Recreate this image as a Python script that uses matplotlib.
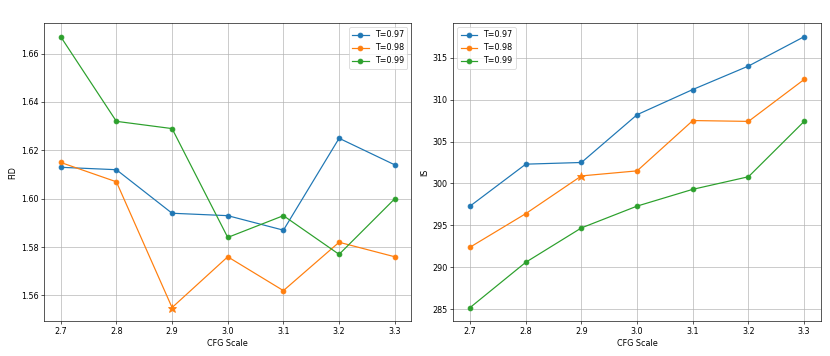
import matplotlib
matplotlib.use("Agg")
import matplotlib.pyplot as plt

# CFG scales and metrics per temperature
cfg = [2.7, 2.8, 2.9, 3.0, 3.1, 3.2, 3.3]
temps = ["T=0.97", "T=0.98", "T=0.99"]

fid_097 = [1.613, 1.612, 1.594, 1.593, 1.587, 1.625, 1.614]
fid_098 = [1.615, 1.607, 1.555, 1.576, 1.562, 1.582, 1.576]
fid_099 = [1.667, 1.632, 1.629, 1.584, 1.593, 1.577, 1.600]

is_097 = [297.3, 302.3, 302.5, 308.2, 311.2, 314.0, 317.5]
is_098 = [292.4, 296.4, 300.9, 301.5, 307.5, 307.4, 312.4]
is_099 = [285.2, 290.6, 294.7, 297.3, 299.3, 300.8, 307.4]

# best setting highlighted with a star
best_idx = 2

colors = ["#1f77b4", "#ff7f0e", "#2ca02c"]

fig, axes = plt.subplots(1, 2, figsize=(830 / 58, 356 / 58), dpi=58)
fig.subplots_adjust(left=0.053, right=0.989, top=0.935, bottom=0.098, wspace=0.114)

panels = [
    (axes[0], [fid_097, fid_098, fid_099], "FID", "upper right"),
    (axes[1], [is_097, is_098, is_099], "IS", "upper left"),
]

for ax, series, ylabel, loc in panels:
    for i, (vals, label) in enumerate(zip(series, temps)):
        if i == 1:
            keep = [j for j in range(len(cfg)) if j != best_idx]
            ax.plot(cfg, vals, "-o", color=colors[i], label=label, markevery=keep)
            ax.plot(cfg[best_idx], vals[best_idx], "*", color=colors[i], markersize=11)
        else:
            ax.plot(cfg, vals, "-o", color=colors[i], label=label)
    ax.set_xlabel("CFG Scale")
    ax.set_ylabel(ylabel)
    ax.set_xticks(cfg)
    ax.grid(True)
    ax.legend(loc=loc)

fig.savefig("out.png", dpi=58)
